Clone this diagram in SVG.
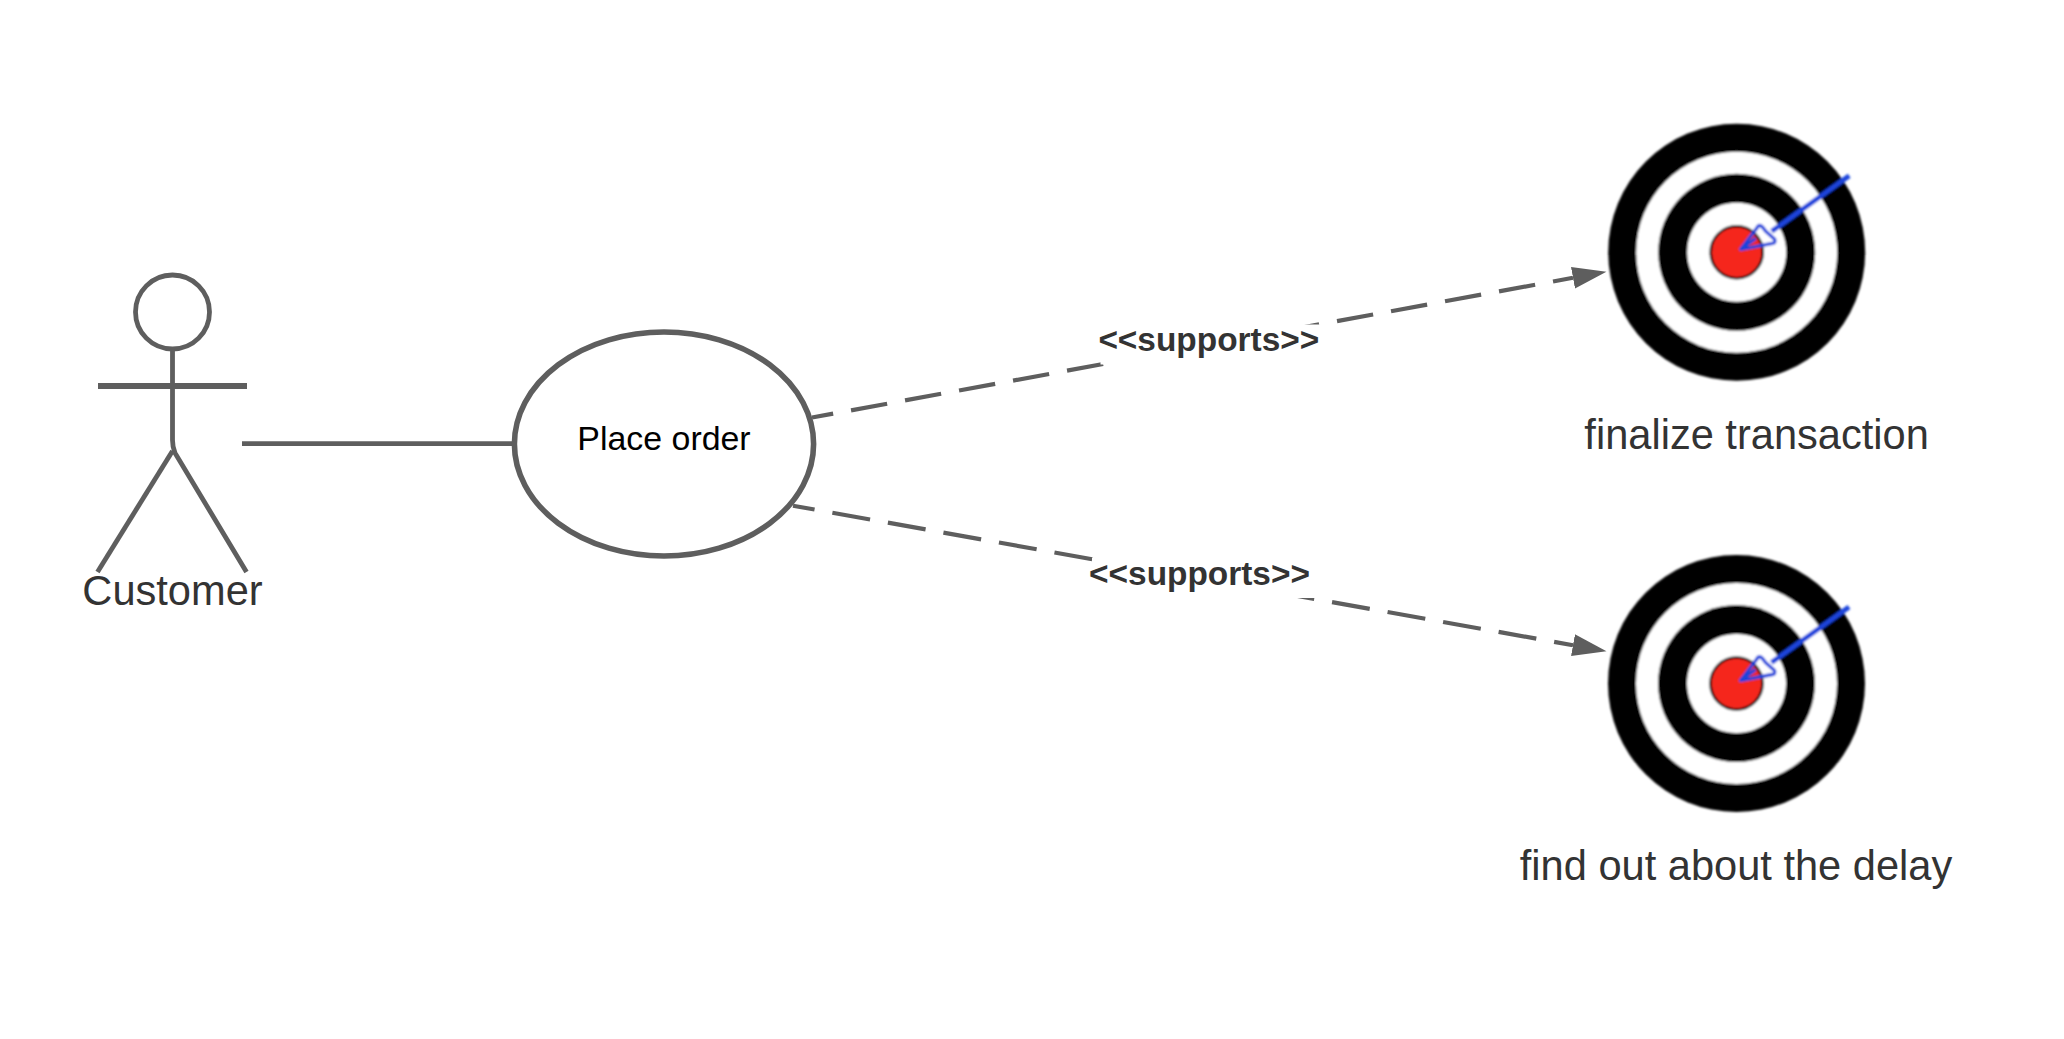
<svg xmlns="http://www.w3.org/2000/svg" width="2064" height="1039" viewBox="0 0 2064 1039">
<style>
.ln{fill:none;stroke:#5e5e5e;stroke-width:4.8}
.arm{fill:none;stroke:#5e5e5e;stroke-width:5.8}
.dash{fill:none;stroke:#5e5e5e;stroke-width:4.2}
.big{font-family:"Liberation Sans",Arial,sans-serif;font-size:41.6px;fill:#333;text-anchor:middle}
.lab{font-family:"Liberation Sans",Arial,sans-serif;font-size:33.4px;font-weight:bold;fill:#333;text-anchor:middle}
</style>
<defs>
<marker id="tri" markerUnits="userSpaceOnUse" markerWidth="38" markerHeight="26" refX="0" refY="13" orient="auto" viewBox="0 0 38 26">
<path d="M0 2L34 13L0 24Z" fill="#5e5e5e"/>
</marker>
<filter id="soft" x="-5%" y="-5%" width="110%" height="110%"><feGaussianBlur stdDeviation="0.9"/></filter>
<g id="bullseye" filter="url(#soft)">
<circle r="128.5" fill="#000"/>
<circle r="100.5" fill="#fff"/>
<circle r="78.5" fill="#060606"/>
<circle r="49.5" fill="#fff"/>
<circle r="26" fill="#f5281a" stroke="#120808" stroke-width="2.6"/>
<path d="M112.5 -76.5L35 -21" fill="none" stroke="#1a44dc" stroke-width="4.8"/>
<path d="M4 -3L20 -24Q22 -29 26 -25L29 -21L38 -13Q39 -9 36 -9Z" fill="none" stroke="#1a44dc" stroke-width="3.4" stroke-linejoin="round"/>
<path d="M4 -3L19 -14" fill="none" stroke="#1a44dc" stroke-width="3.5"/>
</g>
</defs>
<rect width="2064" height="1039" fill="#fff"/>
<g id="connectors">
<path class="ln" d="M242 443.7H512"/>
<path class="dash" stroke-dasharray="36.7 18.2" stroke-dashoffset="15.2" d="M812 417.5L1573 277.8" marker-end="url(#tri)"/>
<path class="dash" stroke-dasharray="38.3 18.1" stroke-dashoffset="16.4" d="M793 505.7L1573 645.2" marker-end="url(#tri)"/>
</g>
<g id="actor">
<circle class="ln" cx="172.5" cy="312" r="37"/>
<path class="ln" d="M172.5 349V440Q172.5 447 175 453L246.5 572"/>
<path class="ln" d="M172.5 451L97.5 572"/>
<path class="arm" d="M98 386H247"/>
<text class="big" x="172.5" y="604.7">Customer</text>
</g>
<g id="usecase">
<ellipse cx="664" cy="444" rx="149.6" ry="112" fill="#fff" stroke="#5e5e5e" stroke-width="5.6"/>
<text x="664" y="450" text-anchor="middle" font-family="'Liberation Sans',Arial,sans-serif" font-size="33.9" fill="#000">Place order</text>
</g>
<g id="label-upper">
<rect x="1100.5" y="324.5" width="220" height="40" fill="#fff"/>
<text class="lab" x="1208.8" y="350.5">&lt;&lt;supports&gt;&gt;</text>
</g>
<g id="label-lower">
<rect x="1092" y="558" width="224" height="40" fill="#fff"/>
<text class="lab" x="1199.5" y="584.8">&lt;&lt;supports&gt;&gt;</text>
</g>
<g id="target-finalize">
<use href="#bullseye" x="1736.7" y="252.3"/>
<text class="big" x="1756.6" y="449">finalize transaction</text>
</g>
<g id="target-delay">
<use href="#bullseye" x="1736.5" y="683.5"/>
<text class="big" x="1736" y="879.7">find out about the delay</text>
</g>
</svg>
